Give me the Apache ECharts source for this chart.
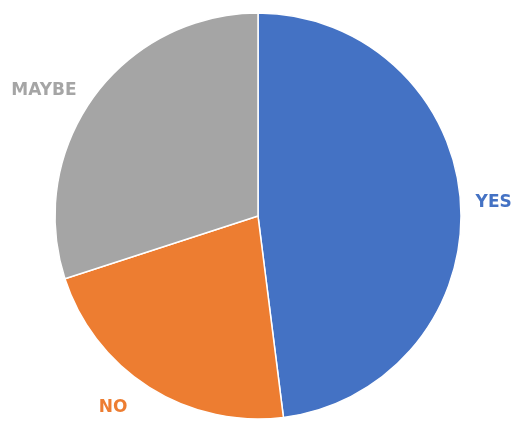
<!DOCTYPE html>
<html>
<head>
<meta charset="utf-8">
<script src="https://cdn.jsdelivr.net/npm/echarts@6/dist/echarts.min.js"></script>
<style>
  html, body { margin: 0; padding: 0; background: #fff; }
  #chart { width: 513px; height: 423px; }
</style>
</head>
<body>
<div id="chart"></div>
<script>
// answers and their share of the pie
const answers = ["YES", "NO", "MAYBE"];
const shares = [48, 22, 30];
const colors = ["#4472C4", "#ED7D31", "#A5A5A5"];
// how far each label sits from the rim
const labelGap = [6, 24, 10];

const myChart = echarts.init(document.getElementById("chart"));

const option = {
  animation: false,
  color: colors,
  series: [
    {
      type: "pie",
      radius: [0, 203],
      center: [258, 216],
      startAngle: 90,
      clockwise: true,
      avoidLabelOverlap: false,
      itemStyle: {
        borderColor: "#fff",
        borderWidth: 1.5,
      },
      label: {
        show: true,
        position: "outside",
        formatter: "{b}",
        fontFamily: "DejaVu Sans",
        fontSize: 17,
        fontWeight: "bold",
      },
      labelLine: {
        show: false,
        length: 10,
        length2: 4,
      },
      data: answers.map((name, i) => ({
        name: name,
        value: shares[i],
        label: { color: colors[i] },
        labelLine: { length: labelGap[i] },
      })),
    },
  ],
};
myChart.setOption(option);
</script>
</body>
</html>
